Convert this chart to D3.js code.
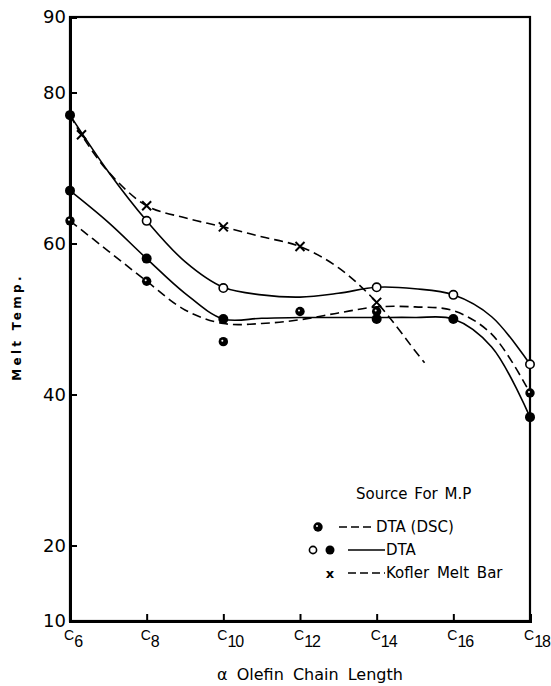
<!DOCTYPE html>
<html>
<head>
<meta charset="utf-8">
<script src="https://cdn.jsdelivr.net/npm/d3@7"></script>
<style>
  body { margin: 0; background: #fff; }
  svg { font-family: "DejaVu Sans", sans-serif; }
  .curve { fill: none; stroke: #000; stroke-width: 1.6; }
  .dash { stroke-dasharray: 9 5; }
</style>
</head>
<body>
<script>
// chain length categories (carbon number) and tick labels
const chainTicks = [6, 8, 10, 12, 14, 16, 18];
const yLabels = [10, 20, 40, 60, 80, 90];
const yTicks = [20, 40, 60, 80];

// measured points
const dtaOpen = [[8, 63], [10, 54.1], [14, 54.2], [16, 53.2], [18, 44]];
const dtaFilled = [[6, 77], [6, 67], [8, 58], [10, 50], [14, 50], [16, 50], [18, 37]];
const dscPoints = [[6, 63], [8, 55], [10, 47], [12, 51], [14, 51], [18, 40.2]];
const koflerPoints = [[6.3, 74.4], [8, 65], [10, 62.2], [12, 59.6], [14, 52.2]];

// hand drawn curves
const openCurve = [[6, 77], [7, 69.5], [8, 63], [9, 57.6], [10, 54.2], [11, 53.2], [12, 52.9],
  [13, 53.4], [14, 54.2], [15, 54.0], [16, 53.2], [17, 50.3], [18, 44]];
const filledCurve = [[6, 67], [7, 62.8], [8, 58], [9, 53.4], [10, 50], [11, 50.1], [12, 50.2],
  [13, 50.2], [14, 50.2], [15, 50.2], [16, 50], [17, 46.3], [18, 37]];
const dscCurve = [[6, 63], [7, 59], [8, 55], [9, 51.2], [10, 49.4], [11, 49.4], [12, 49.9],
  [13, 50.8], [14, 51.6], [15, 51.6], [16, 51.1], [17, 48], [18, 40.2]];
const koflerCurve = [[6, 77], [6.3, 74.4], [7, 69.5], [8, 65], [9, 63.4], [10, 62.2], [11, 60.9],
  [12, 59.6], [13, 56.8], [14, 52.2], [15, 45.8], [15.25, 44.2]];

const W = 551, H = 686;
const svg = d3.select("body").append("svg").attr("width", W).attr("height", H);

const x = d3.scaleLinear().domain([6, 18]).range([70, 530]);
const y = d3.scaleLinear().domain([10, 90]).range([621, 17]);

// frame
svg.append("rect")
  .attr("x", x(6)).attr("y", y(90))
  .attr("width", x(18) - x(6)).attr("height", y(10) - y(90))
  .attr("fill", "none").attr("stroke", "#000").attr("stroke-width", 2.2);

// axes (ticks point inward)
const yAxis = d3.axisLeft(y).tickValues(yTicks).tickSize(-7).tickFormat("");
svg.append("g").attr("transform", `translate(${x(6)},0)`).call(yAxis)
  .call(g => g.select(".domain").attr("stroke-width", 3))
  .call(g => g.selectAll(".tick line").attr("stroke-width", 2));
const xAxis = d3.axisBottom(x).tickValues(chainTicks.slice(1, -1)).tickSize(-7).tickFormat("");
svg.append("g").attr("transform", `translate(0,${y(10)})`).call(xAxis)
  .call(g => g.select(".domain").attr("stroke-width", 3))
  .call(g => g.selectAll(".tick line").attr("stroke-width", 2));

// y tick labels
svg.append("g").selectAll("text").data(yLabels).join("text")
  .attr("x", x(6) - 4).attr("y", d => y(d))
  .attr("dy", "0.36em").attr("text-anchor", "end")
  .attr("font-size", 18).text(d => d);

// x tick labels: C with subscript
const xl = svg.append("g").attr("font-family", "Liberation Sans, sans-serif")
  .selectAll("text").data(chainTicks).join("text")
  .attr("x", d => x(d) - 6).attr("y", y(10) + 19);
xl.append("tspan").attr("font-size", 14).text("C");
xl.append("tspan").attr("font-size", 16).attr("dy", 7).attr("letter-spacing", -1).text(d => d);

// axis titles
svg.append("text")
  .attr("transform", `translate(21,327) rotate(-90)`)
  .attr("text-anchor", "middle").attr("font-size", 12).attr("font-weight", "bold")
  .attr("letter-spacing", 3.3).text("Melt Temp.");
svg.append("text")
  .attr("x", 310).attr("y", 680).attr("text-anchor", "middle")
  .attr("font-size", 16).attr("word-spacing", 4).text("\u03b1 Olefin Chain Length");

// curves
const line = d3.line().x(d => x(d[0])).y(d => y(d[1])).curve(d3.curveCatmullRom.alpha(0.5));
svg.append("path").datum(openCurve).attr("class", "curve").attr("d", line);
svg.append("path").datum(filledCurve).attr("class", "curve").attr("d", line);
svg.append("path").datum(dscCurve).attr("class", "curve dash").attr("d", line);
svg.append("path").datum(koflerCurve).attr("class", "curve dash").attr("d", line);

// markers
function dscMark(g, cx, cy) {
  g.append("circle").attr("cx", cx).attr("cy", cy).attr("r", 4.7).attr("fill", "#000");
  g.append("circle").attr("cx", cx - 1).attr("cy", cy - 1).attr("r", 1).attr("fill", "#fff");
}
function crossMark(g, cx, cy) {
  const s = 4.5;
  g.append("path")
    .attr("d", `M${cx - s},${cy - s}L${cx + s},${cy + s}M${cx + s},${cy - s}L${cx - s},${cy + s}`)
    .attr("stroke", "#000").attr("stroke-width", 2);
}
const marks = svg.append("g");
dtaOpen.forEach(d => marks.append("circle").attr("cx", x(d[0])).attr("cy", y(d[1]))
  .attr("r", 4.2).attr("fill", "#fff").attr("stroke", "#000").attr("stroke-width", 1.6));
dtaFilled.forEach(d => marks.append("circle").attr("cx", x(d[0])).attr("cy", y(d[1]))
  .attr("r", 5).attr("fill", "#000"));
dscPoints.forEach(d => dscMark(marks, x(d[0]), y(d[1])));
koflerPoints.forEach(d => crossMark(marks, x(d[0]), y(d[1])));

// legend
const lg = svg.append("g").attr("font-size", 15);
lg.append("text").attr("x", 356).attr("y", 499).attr("word-spacing", 2).text("Source For M.P");
dscMark(lg, 318, 527);
lg.append("line").attr("x1", 339).attr("x2", 375).attr("y1", 527).attr("y2", 527)
  .attr("class", "curve").attr("stroke-dasharray", "8 4");
lg.append("text").attr("x", 376).attr("y", 532).text("DTA (DSC)");
lg.append("circle").attr("cx", 313).attr("cy", 550).attr("r", 3.6)
  .attr("fill", "#fff").attr("stroke", "#000").attr("stroke-width", 1.6);
lg.append("circle").attr("cx", 330).attr("cy", 550).attr("r", 4.5).attr("fill", "#000");
lg.append("line").attr("x1", 348).attr("x2", 385).attr("y1", 550).attr("y2", 550).attr("class", "curve");
lg.append("text").attr("x", 386).attr("y", 555).text("DTA");
lg.append("text").attr("x", 330).attr("y", 578).attr("text-anchor", "middle")
  .attr("font-weight", "bold").attr("font-size", 13).text("x");
lg.append("line").attr("x1", 348).attr("x2", 385).attr("y1", 573).attr("y2", 573)
  .attr("class", "curve").attr("stroke-dasharray", "8 4");
lg.append("text").attr("x", 386).attr("y", 578).attr("word-spacing", 3).text("Kofler Melt Bar");
</script>
</body>
</html>
